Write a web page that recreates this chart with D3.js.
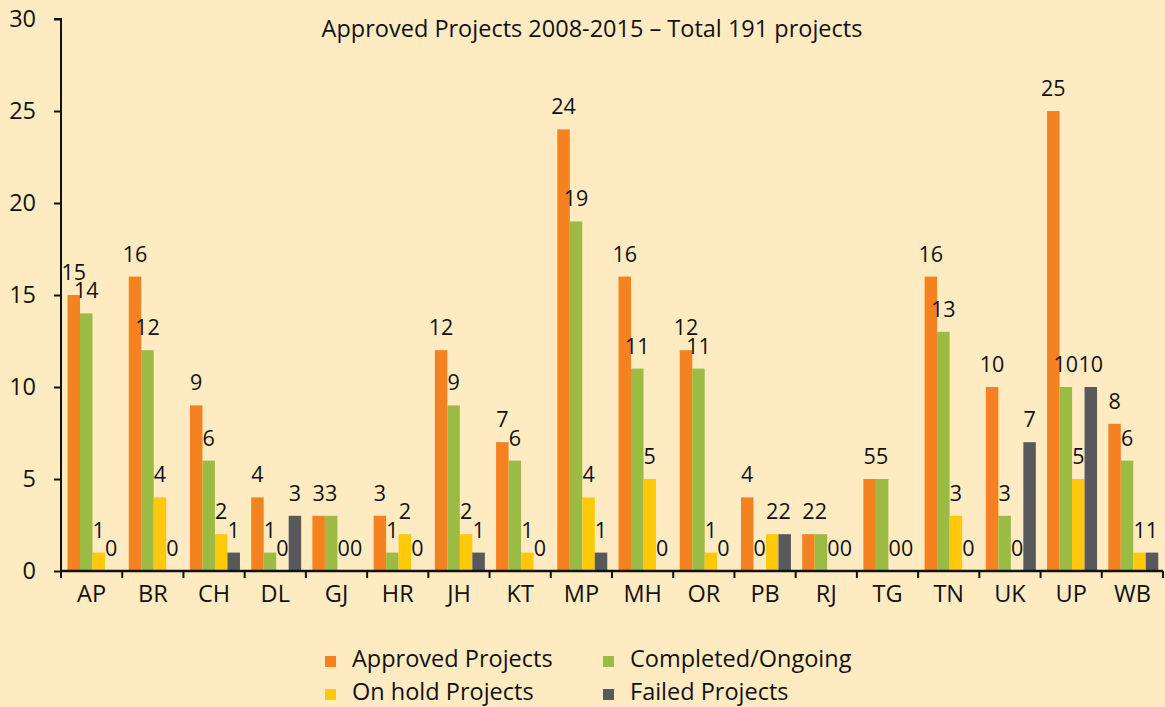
<!DOCTYPE html>
<html>
<head>
<meta charset="utf-8">
<script src="https://cdn.jsdelivr.net/npm/d3@7"></script>
<style>
  body { margin: 0; background: #ffebc1; }
  svg { display: block; font-family: "Open Sans", Lato, sans-serif; }
</style>
</head>
<body>
<script>
const states = ["AP", "BR", "CH", "DL", "GJ", "HR", "JH", "KT", "MP", "MH", "OR", "PB", "RJ", "TG", "TN", "UK", "UP", "WB"];
const approved = [15, 16, 9, 4, 3, 3, 12, 7, 24, 16, 12, 4, 2, 5, 16, 10, 25, 8];
const completed = [14, 12, 6, 1, 3, 1, 9, 6, 19, 11, 11, 0, 2, 5, 13, 3, 10, 6];
const onHold = [1, 4, 2, 0, 0, 2, 2, 1, 4, 5, 1, 2, 0, 0, 3, 0, 5, 1];
const failed = [0, 0, 1, 3, 0, 0, 1, 0, 1, 0, 0, 2, 0, 0, 0, 7, 10, 1];
const seriesNames = ["Approved Projects", "Completed/Ongoing", "On hold Projects", "Failed Projects"];
const yTicks = [0, 5, 10, 15, 20, 25, 30];

const colors = ["#f58220", "#9bbb45", "#ffc90a", "#57595b"];
const seriesValues = [approved, completed, onHold, failed];

const width = 1165;
const height = 707;
const margin = { left: 61, right: 2, top: 19, bottom: 136 };

const svg = d3.select("body")
  .append("svg")
  .attr("width", width)
  .attr("height", height);

const x = d3.scaleBand()
  .domain(states)
  .range([margin.left, width - margin.right]);

const xInner = d3.scaleBand()
  .domain(d3.range(seriesNames.length))
  .range([0, x.bandwidth()])
  .paddingOuter(0.45)
  .paddingInner(0)
  .align(0.58);

const y = d3.scaleLinear()
  .domain([0, 30])
  .range([height - margin.bottom, margin.top]);

// title
svg.append("text")
  .attr("x", 592)
  .attr("y", 37)
  .attr("text-anchor", "middle")
  .attr("font-size", 23.5)
  .attr("fill", "#111")
  .text("Approved Projects 2008-2015 – Total 191 projects");

// bars
const groups = svg.append("g")
  .selectAll("g")
  .data(states)
  .join("g")
  .attr("transform", (d) => `translate(${x(d)},0)`);

groups.selectAll("rect")
  .data((d, i) => seriesValues.map((vals, s) => ({ s, v: vals[i] })))
  .join("rect")
  .attr("x", (d) => xInner(d.s))
  .attr("width", xInner.bandwidth())
  .attr("y", (d) => y(d.v))
  .attr("height", (d) => y(0) - y(d.v))
  .attr("fill", (d) => colors[d.s]);

groups.selectAll("text")
  .data((d, i) => seriesValues.map((vals, s) => ({ s, v: vals[i] })))
  .join("text")
  .attr("x", (d) => xInner(d.s) + xInner.bandwidth() / 2)
  .attr("y", (d) => y(d.v) - 15)
  .attr("text-anchor", "middle")
  .attr("font-size", 21.5)
  .attr("fill", "#111")
  .text((d) => d.v);

// y axis
const yAxis = svg.append("g")
  .attr("transform", `translate(${margin.left},0)`)
  .call(d3.axisLeft(y).tickValues(yTicks).tickSize(7).tickPadding(18))
  .call((g) => g.select(".domain").attr("d", `M-7,${y(30)}H0V${y(0)}`));
yAxis.selectAll("text").attr("font-size", 23.5).attr("fill", "#111").attr("font-family", "'Open Sans', sans-serif");
yAxis.selectAll("line, path").attr("stroke", "#111").attr("stroke-width", 2);

// x axis
const xAxis = svg.append("g")
  .attr("transform", `translate(0,${y(0)})`)
  .call(d3.axisBottom(x).tickSize(0).tickPadding(14))
  .call((g) => g.select(".domain").attr("d", `M${margin.left},0H${width - margin.right}`));
xAxis.selectAll("text").attr("font-size", 23.5).attr("fill", "#111").attr("font-family", "'Open Sans', sans-serif");
xAxis.selectAll("path").attr("stroke", "#111").attr("stroke-width", 2.5);

xAxis.append("g")
  .selectAll("line")
  .data(states)
  .join("line")
  .attr("x1", (d) => x(d) + x.bandwidth())
  .attr("x2", (d) => x(d) + x.bandwidth())
  .attr("y1", 0)
  .attr("y2", 7)
  .attr("stroke", "#111")
  .attr("stroke-width", 2);
xAxis.append("line")
  .attr("x1", margin.left).attr("x2", margin.left)
  .attr("y1", 0).attr("y2", 7)
  .attr("stroke", "#111").attr("stroke-width", 2);

// legend
const legendPos = [[325, 667], [603, 667], [325, 700], [603, 700]];
const legend = svg.append("g")
  .selectAll("g")
  .data(seriesNames)
  .join("g")
  .attr("transform", (d, i) => `translate(${legendPos[i][0]},${legendPos[i][1]})`);

legend.append("rect")
  .attr("x", 0)
  .attr("y", -11)
  .attr("width", 11)
  .attr("height", 11)
  .attr("fill", (d, i) => colors[i]);

legend.append("text")
  .attr("x", 27)
  .attr("y", 0)
  .attr("font-size", 23.5)
  .attr("fill", "#111")
  .text((d) => d);
</script>
</body>
</html>
